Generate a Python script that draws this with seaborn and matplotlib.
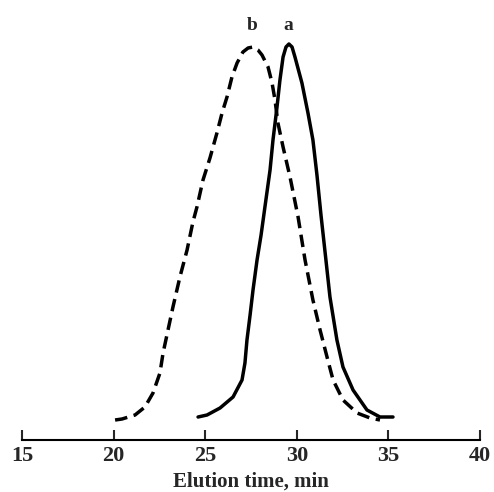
#! /usr/bin/env python3
# -*- coding: utf-8 -*-

import pandas as pd
import matplotlib
matplotlib.use('Agg')
import matplotlib.pyplot as plt
import seaborn as sns

#Curve a (solid): elution time (min) vs detector response (arbitrary units)
time_a = [24.61, 25.10, 25.81, 26.52, 27.01, 27.17, 27.28, 27.45, 27.61, 27.83,
          28.05, 28.26, 28.54, 28.70, 28.92, 29.08, 29.25, 29.41, 29.57, 29.74,
          29.90, 30.28, 30.61, 30.88, 31.10, 31.32, 31.59, 31.81, 32.19, 32.52,
          33.07, 33.83, 34.54, 35.25]
signal_a = [23, 25, 32, 43, 60, 77, 100, 125, 150, 180,
            205, 233, 270, 300, 333, 360, 383, 393, 396, 393,
            383, 357, 327, 300, 265, 225, 180, 143, 100, 73,
            50, 30, 23, 23]

#Curve b (dashed)
time_b = [20.08, 20.46, 21.17, 21.71, 22.15, 22.53, 22.70, 22.97, 23.24, 23.62,
          24.01, 24.33, 24.55, 24.88, 25.26, 25.64, 25.92, 26.19, 26.46, 26.74,
          27.06, 27.34, 27.61, 27.88, 28.10, 28.43, 28.65, 28.81, 28.97, 29.25,
          29.63, 30.07, 30.45, 30.88, 31.27, 31.65, 31.98, 32.52, 33.29, 34.00,
          34.54]
signal_b = [20, 21, 25, 33, 47, 67, 87, 110, 133, 163,
            190, 218, 233, 260, 282, 307, 327, 343, 363, 377,
            388, 392, 393, 390, 385, 373, 357, 340, 317, 293,
            263, 223, 180, 140, 110, 83, 60, 40, 27, 22,
            20]

xticks = [15, 20, 25, 30, 35, 40]
xlabel = 'Elution time, min'
peak_labels = {'a': (29.52, 410), 'b': (27.55, 410)}

df = pd.concat([
    pd.DataFrame({'time': time_a, 'signal': signal_a, 'sample': 'a'}),
    pd.DataFrame({'time': time_b, 'signal': signal_b, 'sample': 'b'}),
])

sns.set_style('white')
plt.rcParams['font.family'] = ['Liberation Serif', 'DejaVu Serif']
plt.rcParams['font.weight'] = 'bold'

fig = plt.figure(figsize=(4.94, 4.92), dpi=100)
ax = fig.add_axes([22/494, 52/492, 458/494, 440/492])

sns.lineplot(data=df, x='time', y='signal', style='sample', sort=False,
             dashes={'a': '', 'b': (3.6, 1.9)}, color='black', linewidth=2.5,
             estimator=None, legend=False, ax=ax)
for line in ax.get_lines():
    line.set_solid_joinstyle('round')
    line.set_dash_joinstyle('round')

for lab, (x, y) in peak_labels.items():
    ax.text(x, y, lab, ha='center', va='baseline', fontsize=14, fontweight='bold')

ax.set_xlim(15, 40)
ax.set_ylim(0, 440)
ax.set_xticks(xticks)
ax.set_xticklabels([str(t) for t in xticks], fontsize=16, fontweight='bold')
ax.set_yticks([])
ax.set_xlabel(xlabel, fontsize=15, fontweight='bold', labelpad=4)
ax.set_ylabel('')
ax.tick_params(axis='x', direction='in', length=7, width=1.5, pad=4, bottom=True)

for s in ['top', 'left', 'right']:
    ax.spines[s].set_visible(False)
ax.spines['bottom'].set_linewidth(1.5)
ax.spines['bottom'].set_color('black')
ax.patch.set_alpha(0)

fig.savefig('out.png', dpi=100)
